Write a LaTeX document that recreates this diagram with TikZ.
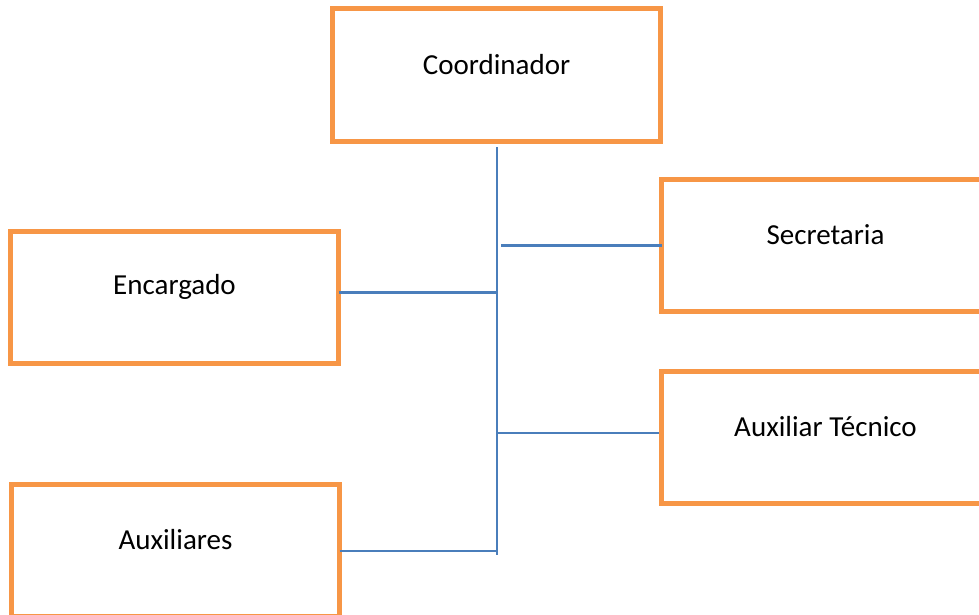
\documentclass[tikz,border=0pt]{standalone}
\usepackage{fontspec}
\setmainfont{Carlito}
\definecolor{boxorange}{HTML}{F79646}
\definecolor{lineblue}{HTML}{4A7EBB}
\begin{document}
\begin{tikzpicture}[x=1pt,y=-1pt,
  orgbox/.style={draw=boxorange, line width=5pt, fill=white, rectangle,
    minimum width=328pt, minimum height=132pt, inner sep=0pt, outer sep=0pt},
  boxtext/.style={font=\fontsize{29}{35}\selectfont, text=black, anchor=center, inner sep=0pt},
  conn/.style={draw=lineblue, line width=2.2pt}]
\useasboundingbox (0,0) rectangle (979,615);
\clip (0,0) rectangle (979,615);
\fill[white] (0,0) rectangle (979,615);
% boxes (centre-line positions)
\node[orgbox, label={[boxtext, yshift=-55.5pt]north:Coordinador}] (coord) at (496.5,75) {};
\node[orgbox, label={[boxtext, yshift=-55.5pt]north:Secretaria}] (secr) at (825.5,245.5) {};
\node[orgbox, label={[boxtext, yshift=-55.5pt]north:Encargado}] (enc) at (174.5,297.5) {};
\node[orgbox, label={[boxtext, yshift=-55.5pt]north:Auxiliar Técnico}] (auxt) at (825.5,437.5) {};
\node[orgbox, label={[boxtext, yshift=-55.5pt]north:Auxiliares}] (auxs) at (175.5,550.5) {};
% bus coordinates
\coordinate (bustop) at (497,147);
\coordinate (busbot) at (497,555);
\coordinate (bsecr) at (501,245.5);
\coordinate (benc) at (497,292.5);
\coordinate (bauxt) at (497,432.7);
\coordinate (bauxs) at (497,550.7);
% connectors
\draw[conn] (bustop) -- (busbot);
\draw[conn] (bsecr) -- (secr.west |- bsecr);
\draw[conn] (enc.east |- benc) -- (benc);
\draw[conn] (bauxt) -- ([xshift=-3pt]auxt.west |- bauxt);
\draw[conn] (auxs.east |- bauxs) -- (bauxs);
\end{tikzpicture}
\end{document}
